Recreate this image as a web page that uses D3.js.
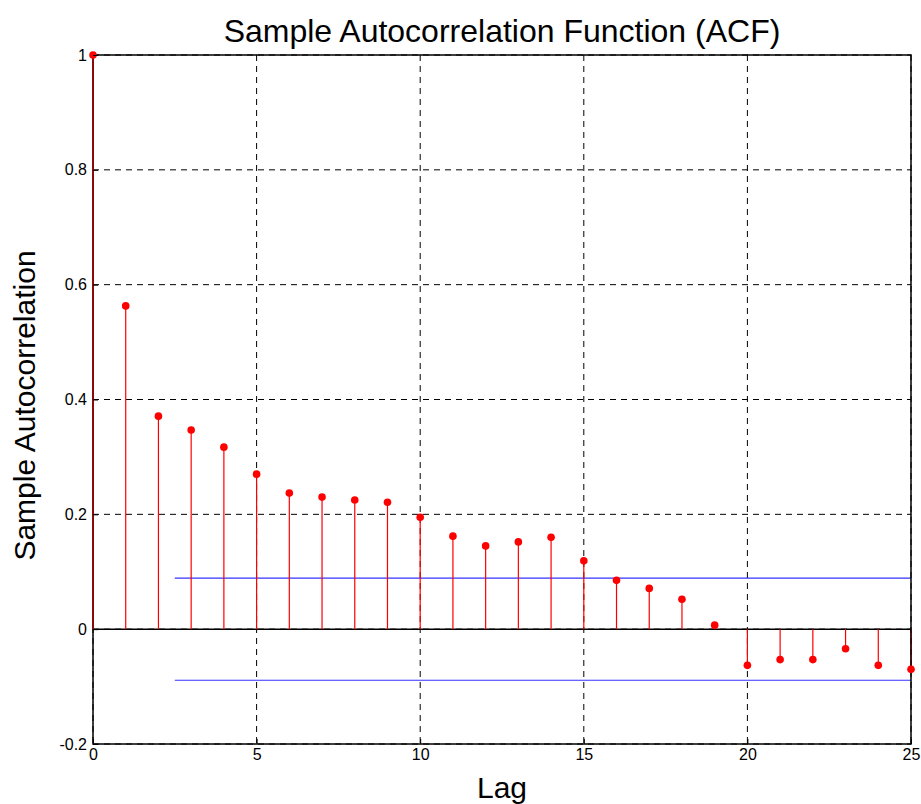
<!DOCTYPE html>
<html>
<head>
<meta charset="utf-8">
<script src="https://cdn.jsdelivr.net/npm/d3@7"></script>
<style>
    body { margin: 0; background: #fff; }
    text { font-family: 'Liberation Sans', Arial, sans-serif; fill: #000; }
</style>
</head>
<body>
<svg id="chart"></svg>
<script>
// Sample ACF values, lag 0..25
const lags = d3.range(0, 26);
const acf = [
    1.0, 0.563, 0.371, 0.347, 0.317, 0.270, 0.237, 0.230, 0.225, 0.221,
    0.195, 0.162, 0.145, 0.152, 0.160, 0.119, 0.085, 0.071, 0.052, 0.007,
    -0.063, -0.053, -0.053, -0.034, -0.063, -0.070,
];
// Confidence bounds and where they start
const bounds = [0.089, -0.089];
const boundStart = 2.5;
const xTicks = [0, 5, 10, 15, 20, 25];
const yTicks = [-0.2, 0, 0.2, 0.4, 0.6, 0.8, 1];

const width = 921;
const height = 804;
const margin = { top: 55, right: 10, bottom: 60, left: 93 };
const innerW = 911 - margin.left;
const innerH = 744 - margin.top;
const font = "'Liberation Sans', Arial, sans-serif";

const svg = d3.select('#chart').attr('width', width).attr('height', height);
const g = svg.append('g').attr('transform', `translate(${margin.left}, ${margin.top})`);

const x = d3.scaleLinear().domain([0, 25]).range([0, innerW]);
const y = d3.scaleLinear().domain([-0.2, 1]).range([innerH, 0]);

// Grid lines (dashed)
g.append('g')
    .selectAll('line')
    .data(xTicks)
    .enter()
    .append('line')
    .attr('x1', d => x(d))
    .attr('x2', d => x(d))
    .attr('y1', 0)
    .attr('y2', innerH)
    .attr('stroke', '#000')
    .attr('stroke-width', 1)
    .attr('stroke-dasharray', '6,5');

g.append('g')
    .selectAll('line')
    .data(yTicks)
    .enter()
    .append('line')
    .attr('x1', 0)
    .attr('x2', innerW)
    .attr('y1', d => y(d))
    .attr('y2', d => y(d))
    .attr('stroke', '#000')
    .attr('stroke-width', 1)
    .attr('stroke-dasharray', '6,5');

// Baseline at zero
g.append('line')
    .attr('x1', 0)
    .attr('x2', innerW)
    .attr('y1', y(0))
    .attr('y2', y(0))
    .attr('stroke', '#000')
    .attr('stroke-width', 1.5);

// Confidence bounds
g.append('g')
    .selectAll('line')
    .data(bounds)
    .enter()
    .append('line')
    .attr('x1', x(boundStart))
    .attr('x2', innerW)
    .attr('y1', d => y(d))
    .attr('y2', d => y(d))
    .attr('stroke', '#3333ff')
    .attr('stroke-width', 1.2);

// Stems
const data = lags.map((lag, i) => ({ lag, value: acf[i] }));
g.append('g')
    .selectAll('line')
    .data(data)
    .enter()
    .append('line')
    .attr('x1', d => x(d.lag))
    .attr('x2', d => x(d.lag))
    .attr('y1', y(0))
    .attr('y2', d => y(d.value))
    .attr('stroke', '#ff0000')
    .attr('stroke-width', 1.2);

// Frame
g.append('rect')
    .attr('width', innerW)
    .attr('height', innerH)
    .attr('fill', 'none')
    .attr('stroke', '#000')
    .attr('stroke-width', 1.5);

// Lag 0 stem overlaps the left axis, draw it darker on top
g.append('line')
    .attr('x1', x(0))
    .attr('x2', x(0))
    .attr('y1', y(0))
    .attr('y2', y(acf[0]))
    .attr('stroke', '#8b0a0a')
    .attr('stroke-width', 2);

// Markers
g.append('g')
    .selectAll('circle')
    .data(data)
    .enter()
    .append('circle')
    .attr('cx', d => x(d.lag))
    .attr('cy', d => y(d.value))
    .attr('r', 3.8)
    .attr('fill', '#ff0000');

// Axes with inward ticks
const xAxis = d3.axisBottom(x).tickValues(xTicks).tickSize(-5).tickPadding(5).tickFormat(d3.format('d'));
const yAxis = d3.axisLeft(y).tickValues(yTicks).tickSize(-5).tickPadding(6).tickFormat(d => String(+d.toFixed(1)));

g.append('g')
    .attr('transform', `translate(0, ${innerH})`)
    .call(xAxis)
    .call(s => s.select('.domain').remove())
    .call(s => s.selectAll('text').attr('font-size', '16px').attr('font-family', font));

g.append('g')
    .call(yAxis)
    .call(s => s.select('.domain').remove())
    .call(s => s.selectAll('text').attr('font-size', '16px').attr('font-family', font));

// Title and axis labels
svg.append('text')
    .attr('x', margin.left + innerW / 2)
    .attr('y', 42)
    .attr('text-anchor', 'middle')
    .attr('font-size', '32px')
    .text('Sample Autocorrelation Function (ACF)');

svg.append('text')
    .attr('x', margin.left + innerW / 2)
    .attr('y', 798)
    .attr('text-anchor', 'middle')
    .attr('font-size', '30px')
    .text('Lag');

svg.append('text')
    .attr('transform', `translate(35, ${margin.top + innerH / 2 + 6}) rotate(-90)`)
    .attr('text-anchor', 'middle')
    .attr('font-size', '30px')
    .text('Sample Autocorrelation');
</script>
</body>
</html>
